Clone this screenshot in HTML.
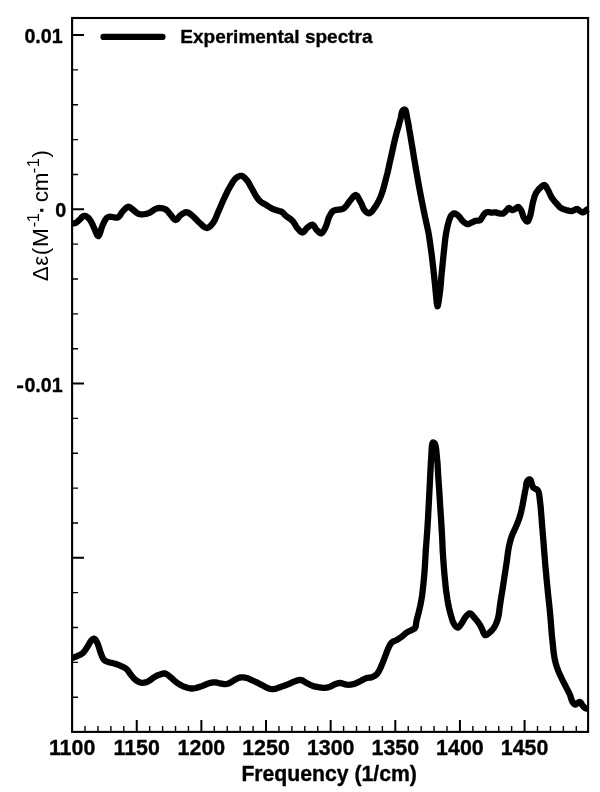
<!DOCTYPE html>
<html><head><meta charset="utf-8"><title>Experimental spectra</title>
<style>
html,body{margin:0;padding:0;background:#fff}
svg{display:block}
text{font-family:"Liberation Sans",sans-serif;fill:#000}
.b{font-weight:bold}
</style></head>
<body>
<svg width="600" height="792" viewBox="0 0 600 792">
<rect width="600" height="792" fill="#fff"/>
<rect x="72.1" y="18.0" width="516.0" height="713.9" fill="none" stroke="#000" stroke-width="2.1"/>
<path d="M136.74 731.90 V719.90 M201.38 731.90 V719.90 M266.02 731.90 V719.90 M330.66 731.90 V719.90 M395.30 731.90 V719.90 M459.94 731.90 V719.90 M524.58 731.90 V719.90 M72.10 557.80 H84.00 M72.10 383.55 H84.00 M72.10 209.30 H84.00 M72.10 35.05 H84.00" fill="none" stroke="#000" stroke-width="2"/>
<path d="M85.03 731.90 V725.90 M97.96 731.90 V725.90 M110.88 731.90 V725.90 M123.81 731.90 V725.90 M149.67 731.90 V725.90 M162.60 731.90 V725.90 M175.52 731.90 V725.90 M188.45 731.90 V725.90 M214.31 731.90 V725.90 M227.24 731.90 V725.90 M240.16 731.90 V725.90 M253.09 731.90 V725.90 M278.95 731.90 V725.90 M291.88 731.90 V725.90 M304.80 731.90 V725.90 M317.73 731.90 V725.90 M343.59 731.90 V725.90 M356.52 731.90 V725.90 M369.44 731.90 V725.90 M382.37 731.90 V725.90 M408.23 731.90 V725.90 M421.16 731.90 V725.90 M434.08 731.90 V725.90 M447.01 731.90 V725.90 M472.87 731.90 V725.90 M485.80 731.90 V725.90 M498.72 731.90 V725.90 M511.65 731.90 V725.90 M537.51 731.90 V725.90 M550.44 731.90 V725.90 M563.36 731.90 V725.90 M576.29 731.90 V725.90 M72.10 697.20 H78.00 M72.10 662.35 H78.00 M72.10 627.50 H78.00 M72.10 592.65 H78.00 M72.10 522.95 H78.00 M72.10 488.10 H78.00 M72.10 453.25 H78.00 M72.10 418.40 H78.00 M72.10 348.70 H78.00 M72.10 313.85 H78.00 M72.10 279.00 H78.00 M72.10 244.15 H78.00 M72.10 174.45 H78.00 M72.10 139.60 H78.00 M72.10 104.75 H78.00 M72.10 69.90 H78.00" fill="none" stroke="#000" stroke-width="1.4"/>
<g fill="none" stroke="#000" stroke-width="6.3" stroke-linejoin="round" stroke-linecap="butt">
<path d="M72.2 223.3 L73.0 223.3 L73.9 223.3 L74.7 223.2 L75.5 223.0 L76.5 222.4 L77.5 221.6 L78.5 220.7 L79.5 219.8 L80.6 218.7 L81.7 217.4 L82.9 216.3 L84.0 215.8 L85.0 215.9 L86.1 216.3 L87.1 216.9 L88.0 217.6 L88.8 218.4 L89.6 219.3 L90.3 220.4 L91.0 221.5 L91.8 223.0 L92.6 224.7 L93.4 226.5 L94.2 228.3 L95.2 230.6 L96.2 233.1 L97.3 235.2 L98.3 236.0 L99.4 234.8 L100.4 231.9 L101.4 228.5 L102.5 225.5 L103.5 223.4 L104.5 221.2 L105.6 219.4 L106.7 218.0 L107.5 217.4 L108.3 217.1 L109.1 216.8 L110.0 216.7 L111.2 216.8 L112.5 217.0 L113.8 217.3 L115.0 217.5 L115.9 217.6 L116.7 217.6 L117.5 217.5 L118.3 217.2 L119.4 216.2 L120.4 214.8 L121.4 213.2 L122.5 211.7 L123.9 210.2 L125.3 208.6 L126.8 207.3 L128.3 206.7 L129.6 207.0 L130.8 207.9 L132.1 209.0 L133.3 210.0 L134.5 211.0 L135.7 212.0 L137.0 213.0 L138.3 213.7 L139.7 214.1 L141.2 214.3 L142.7 214.3 L144.2 214.2 L145.7 214.0 L147.2 213.6 L148.6 213.1 L150.0 212.5 L151.3 211.7 L152.6 210.8 L153.8 209.9 L155.0 209.2 L156.0 208.7 L157.0 208.4 L158.1 208.1 L159.2 208.0 L160.8 208.1 L162.5 208.3 L164.2 208.8 L165.8 209.5 L167.2 210.6 L168.4 212.0 L169.6 213.6 L170.8 215.0 L172.0 216.5 L173.2 218.1 L174.4 219.4 L175.6 220.0 L176.9 219.4 L178.1 218.0 L179.4 216.3 L180.8 215.0 L182.2 214.0 L183.7 213.1 L185.2 212.4 L186.7 212.2 L188.2 212.6 L189.6 213.5 L191.1 214.6 L192.5 215.8 L194.2 217.3 L195.8 219.1 L197.5 220.8 L199.2 222.5 L201.1 224.2 L203.0 226.1 L205.0 227.5 L206.9 228.0 L208.6 227.4 L210.3 226.1 L211.9 224.3 L213.3 222.5 L214.7 220.2 L216.0 217.5 L217.1 214.6 L218.3 211.7 L219.7 208.4 L221.2 205.0 L222.7 201.6 L224.2 198.3 L225.6 195.3 L227.0 192.3 L228.5 189.4 L230.0 186.7 L231.4 184.3 L232.8 182.0 L234.2 179.9 L235.8 178.3 L237.1 177.3 L238.5 176.4 L239.9 175.9 L241.3 175.8 L242.7 176.3 L244.1 177.3 L245.4 178.6 L246.7 180.0 L248.1 181.8 L249.3 183.9 L250.5 186.2 L251.7 188.3 L252.8 190.3 L253.9 192.3 L254.9 194.2 L256.0 196.0 L256.9 197.4 L257.9 198.8 L258.9 200.0 L260.0 201.2 L261.5 202.3 L263.2 203.4 L265.0 204.3 L266.7 205.3 L268.4 206.4 L270.1 207.4 L271.8 208.5 L273.5 209.3 L274.9 209.8 L276.4 210.3 L277.7 210.6 L279.0 211.0 L279.8 211.2 L280.6 211.4 L281.3 211.6 L282.0 212.0 L282.9 212.7 L283.8 213.7 L284.8 214.8 L285.8 215.8 L287.4 217.0 L289.1 218.1 L290.9 219.4 L292.5 220.8 L293.9 222.6 L295.1 224.6 L296.2 226.6 L297.5 228.3 L298.7 229.7 L300.0 231.1 L301.2 232.1 L302.5 232.5 L303.7 231.9 L305.0 230.5 L306.2 228.8 L307.5 227.5 L308.8 226.5 L310.1 225.5 L311.4 224.8 L312.6 224.7 L313.7 225.5 L314.7 226.9 L315.6 228.6 L316.7 230.0 L317.8 231.1 L319.0 232.3 L320.2 233.1 L321.3 233.3 L322.5 232.5 L323.7 230.8 L324.8 228.8 L325.8 226.7 L326.7 224.3 L327.5 221.7 L328.3 219.0 L329.2 216.7 L330.1 215.0 L331.1 213.3 L332.1 211.9 L333.3 210.8 L334.5 210.3 L335.7 210.0 L337.0 209.9 L338.3 209.7 L339.6 209.5 L340.9 209.4 L342.1 209.2 L343.3 208.7 L344.5 207.8 L345.6 206.6 L346.6 205.4 L347.5 204.2 L348.2 203.3 L348.7 202.5 L349.3 201.7 L350.0 200.8 L351.3 199.1 L352.8 197.2 L354.4 195.6 L355.8 195.0 L357.1 195.9 L358.4 197.8 L359.6 200.3 L360.8 202.5 L361.9 204.7 L362.8 207.0 L363.8 209.1 L365.0 210.8 L366.0 211.8 L367.1 212.6 L368.2 213.2 L369.3 213.3 L370.8 212.5 L372.3 211.0 L373.8 208.9 L375.2 206.9 L376.8 204.5 L378.3 201.8 L379.7 198.9 L381.0 195.8 L382.4 191.8 L383.7 187.4 L384.9 182.9 L386.1 178.3 L387.4 173.2 L388.6 168.0 L389.7 162.7 L390.9 157.5 L392.1 152.3 L393.2 147.0 L394.4 141.8 L395.6 136.7 L396.8 132.0 L398.2 127.3 L399.4 122.9 L400.5 119.0 L401.0 116.5 L401.4 114.1 L401.9 112.0 L402.6 110.6 L403.2 110.1 L403.8 109.7 L404.4 109.5 L405.0 109.6 L405.7 110.6 L406.2 112.4 L406.6 114.7 L407.0 117.0 L407.7 120.6 L408.5 124.6 L409.2 129.0 L410.0 133.3 L410.8 138.2 L411.6 143.2 L412.5 148.3 L413.3 153.3 L414.1 158.3 L415.0 163.4 L415.8 168.4 L416.7 173.3 L417.5 177.9 L418.3 182.4 L419.1 186.9 L420.0 191.7 L421.2 197.8 L422.5 204.4 L423.8 210.8 L425.0 216.7 L425.9 220.7 L426.7 224.4 L427.5 228.0 L428.3 231.7 L429.0 235.7 L429.6 239.8 L430.2 244.0 L430.8 248.3 L431.5 253.2 L432.1 258.2 L432.7 263.3 L433.3 268.3 L433.8 273.1 L434.3 277.9 L434.8 282.7 L435.3 287.5 L435.8 293.1 L436.4 299.3 L436.9 304.2 L437.5 306.3 L438.0 305.0 L438.6 301.8 L439.2 297.7 L439.7 293.8 L440.3 289.0 L440.8 283.9 L441.2 278.5 L441.7 273.3 L442.2 268.3 L442.7 263.2 L443.2 258.2 L443.7 253.3 L444.2 248.6 L444.7 243.9 L445.2 239.3 L445.8 235.0 L446.4 231.5 L447.1 228.2 L447.8 225.0 L448.6 222.2 L449.1 220.3 L449.7 218.6 L450.3 217.1 L451.0 215.8 L451.7 214.9 L452.5 214.1 L453.3 213.6 L454.2 213.3 L455.2 213.5 L456.2 214.1 L457.3 214.9 L458.3 215.8 L459.6 217.1 L460.8 218.7 L462.0 220.3 L463.3 221.6 L464.3 222.5 L465.4 223.2 L466.4 223.8 L467.5 224.1 L468.5 224.0 L469.6 223.6 L470.7 223.0 L471.7 222.5 L472.7 222.1 L473.7 221.6 L474.8 221.1 L475.8 220.8 L476.9 220.7 L478.0 220.7 L479.0 220.6 L480.0 220.3 L480.9 219.4 L481.6 218.3 L482.3 217.0 L483.0 215.8 L483.7 214.8 L484.4 213.9 L485.2 213.1 L486.0 212.5 L486.7 212.3 L487.5 212.2 L488.2 212.2 L489.0 212.2 L489.8 212.3 L490.5 212.5 L491.2 212.6 L492.0 212.7 L492.8 212.6 L493.5 212.5 L494.3 212.3 L495.0 212.3 L495.7 212.4 L496.5 212.6 L497.2 212.9 L498.0 213.1 L499.2 213.4 L500.5 213.6 L501.8 213.7 L503.0 213.6 L503.8 213.2 L504.6 212.5 L505.3 211.7 L506.0 211.0 L506.8 210.1 L507.5 209.2 L508.2 208.4 L509.0 208.0 L509.7 208.3 L510.5 208.9 L511.2 209.6 L512.0 210.0 L512.7 210.0 L513.5 209.7 L514.3 209.4 L515.0 209.0 L515.8 208.5 L516.5 207.8 L517.3 207.2 L518.0 207.0 L518.8 207.3 L519.6 208.0 L520.3 209.0 L521.0 210.0 L521.8 211.8 L522.5 214.0 L523.2 216.2 L524.0 218.0 L524.8 219.2 L525.7 220.4 L526.6 221.3 L527.4 221.6 L528.3 220.9 L529.0 219.2 L529.7 217.1 L530.4 215.0 L531.1 212.0 L531.7 208.6 L532.3 205.2 L533.0 202.0 L533.7 199.5 L534.3 197.2 L535.1 195.0 L536.0 193.0 L536.9 191.6 L537.9 190.3 L538.9 189.1 L540.0 188.0 L541.1 187.0 L542.2 185.9 L543.4 185.2 L544.4 185.0 L545.4 185.6 L546.3 186.9 L547.1 188.4 L548.0 190.0 L549.0 191.9 L549.9 194.0 L550.9 196.1 L552.0 198.0 L553.2 199.6 L554.4 201.2 L555.7 202.6 L557.0 204.0 L558.0 205.1 L558.9 206.2 L559.9 207.2 L561.0 208.0 L562.2 208.7 L563.4 209.2 L564.7 209.6 L566.0 210.0 L567.5 210.4 L569.0 210.8 L570.5 211.0 L572.0 211.0 L573.3 210.6 L574.6 209.9 L575.9 209.2 L577.0 209.0 L577.8 209.3 L578.6 209.8 L579.3 210.5 L580.0 211.0 L580.7 211.5 L581.5 211.9 L582.2 212.3 L583.0 212.4 L584.0 212.0 L585.1 211.2 L586.1 210.3 L587.0 209.6 L587.4 209.4 L587.8 209.3 L588.1 209.1 L588.5 209.0"/>
<path d="M72.2 658.0 L73.3 657.6 L74.4 657.2 L75.5 656.8 L76.7 656.3 L78.1 655.7 L79.6 655.0 L81.1 654.3 L82.5 653.3 L83.9 651.9 L85.1 650.2 L86.3 648.4 L87.5 646.7 L88.6 644.9 L89.6 643.0 L90.7 641.3 L91.7 640.0 L92.3 639.4 L93.0 639.0 L93.6 638.7 L94.2 638.7 L95.1 639.3 L95.9 640.4 L96.7 641.8 L97.5 643.3 L98.4 645.6 L99.2 648.2 L100.0 650.9 L100.8 653.3 L101.6 655.2 L102.3 657.0 L103.2 658.7 L104.2 660.0 L105.1 660.7 L106.1 661.2 L107.2 661.6 L108.3 662.0 L109.8 662.5 L111.5 662.8 L113.3 663.2 L115.0 663.7 L116.7 664.3 L118.4 664.9 L120.1 665.6 L121.7 666.3 L123.0 666.9 L124.3 667.6 L125.5 668.3 L126.7 669.2 L128.0 670.6 L129.2 672.4 L130.4 674.2 L131.7 675.8 L132.9 677.2 L134.1 678.6 L135.4 679.8 L136.7 680.8 L138.1 681.6 L139.5 682.2 L141.0 682.6 L142.5 682.8 L143.9 682.7 L145.4 682.4 L146.9 681.9 L148.3 681.3 L150.0 680.3 L151.7 679.1 L153.3 677.8 L155.0 676.7 L156.5 675.9 L158.0 675.2 L159.4 674.7 L160.8 674.2 L161.9 673.9 L162.9 673.6 L164.0 673.4 L165.0 673.5 L166.2 674.0 L167.5 674.7 L168.7 675.7 L170.0 676.7 L171.6 678.0 L173.3 679.6 L175.0 681.1 L176.7 682.5 L178.3 683.6 L179.9 684.6 L181.6 685.5 L183.3 686.3 L185.3 687.1 L187.4 687.8 L189.6 688.3 L191.7 688.5 L193.8 688.4 L195.9 688.0 L198.0 687.4 L200.0 686.8 L201.9 686.1 L203.8 685.3 L205.7 684.5 L207.5 683.8 L209.1 683.3 L210.7 682.8 L212.2 682.5 L213.8 682.3 L215.4 682.4 L216.9 682.6 L218.5 683.0 L220.0 683.3 L221.4 683.6 L222.8 683.9 L224.2 684.2 L225.5 684.2 L226.7 684.0 L227.8 683.7 L228.9 683.3 L230.0 682.8 L231.0 682.2 L232.0 681.6 L232.9 680.9 L234.0 680.3 L235.4 679.5 L236.9 678.7 L238.4 678.0 L240.0 677.5 L241.6 677.3 L243.3 677.4 L245.0 677.6 L246.7 678.0 L248.4 678.5 L250.1 679.3 L251.7 680.1 L253.3 680.8 L254.5 681.4 L255.7 681.9 L256.8 682.4 L258.0 683.0 L259.3 683.7 L260.6 684.4 L262.0 685.1 L263.3 685.8 L264.6 686.5 L265.8 687.2 L267.0 687.8 L268.3 688.3 L269.5 688.7 L270.7 689.0 L272.0 689.2 L273.3 689.2 L274.9 688.9 L276.6 688.4 L278.3 687.8 L280.0 687.2 L282.0 686.5 L284.2 685.8 L286.3 685.0 L288.3 684.2 L290.0 683.5 L291.7 682.7 L293.4 681.9 L295.0 681.3 L296.5 680.8 L297.9 680.3 L299.4 680.0 L300.8 680.0 L302.3 680.4 L303.8 681.2 L305.2 682.2 L306.7 683.0 L308.1 683.7 L309.6 684.5 L311.0 685.2 L312.5 685.8 L313.9 686.3 L315.4 686.6 L316.8 686.9 L318.3 687.2 L320.0 687.5 L321.7 687.7 L323.4 687.8 L325.0 687.8 L326.3 687.7 L327.6 687.4 L328.8 687.1 L330.0 686.7 L331.3 686.1 L332.5 685.5 L333.7 684.8 L335.0 684.2 L336.2 683.8 L337.4 683.4 L338.7 683.1 L340.0 683.0 L341.6 683.2 L343.3 683.8 L345.0 684.4 L346.7 684.7 L348.4 684.8 L350.0 684.7 L351.7 684.5 L353.3 684.2 L355.0 683.7 L356.7 682.9 L358.4 682.1 L360.0 681.3 L361.5 680.5 L362.9 679.7 L364.3 678.9 L365.8 678.3 L367.5 677.9 L369.2 677.7 L370.9 677.5 L372.5 677.0 L373.9 676.3 L375.2 675.5 L376.4 674.5 L377.5 673.3 L378.7 671.5 L379.8 669.4 L380.8 667.2 L381.7 665.0 L382.6 662.9 L383.4 660.9 L384.2 658.8 L385.0 656.7 L385.8 654.6 L386.6 652.4 L387.4 650.3 L388.3 648.3 L389.1 646.7 L389.8 645.1 L390.7 643.7 L391.7 642.5 L392.8 641.7 L394.1 641.1 L395.4 640.6 L396.7 640.0 L398.0 639.2 L399.2 638.4 L400.5 637.6 L401.7 636.7 L403.0 635.7 L404.2 634.6 L405.4 633.5 L406.7 632.5 L408.0 631.8 L409.2 631.2 L410.5 630.6 L411.7 630.0 L412.6 629.6 L413.5 629.2 L414.3 628.7 L415.0 628.0 L415.7 626.5 L416.0 624.5 L416.3 622.2 L416.7 620.0 L417.4 617.4 L418.1 614.7 L418.8 611.9 L419.5 609.0 L420.2 605.9 L420.8 602.8 L421.4 599.6 L422.0 596.0 L422.7 590.4 L423.4 584.2 L424.0 577.9 L424.5 571.7 L424.9 566.2 L425.2 560.7 L425.5 555.3 L425.8 550.0 L426.2 545.2 L426.5 540.5 L426.9 535.6 L427.3 530.0 L428.0 518.6 L428.7 505.1 L429.4 491.6 L430.0 480.0 L430.3 473.8 L430.6 468.2 L430.8 463.0 L431.2 458.0 L431.5 453.3 L431.7 448.4 L432.1 444.4 L432.9 442.5 L433.3 442.5 L433.8 442.7 L434.3 443.1 L434.8 443.6 L435.6 446.0 L436.2 449.6 L436.6 453.8 L437.0 458.0 L437.5 463.0 L437.8 468.1 L438.1 473.8 L438.5 480.0 L439.3 491.5 L440.1 504.8 L441.0 518.2 L441.7 530.0 L442.1 536.9 L442.4 543.0 L442.6 549.0 L443.0 555.0 L443.4 561.3 L443.9 567.7 L444.4 574.0 L445.0 580.0 L445.5 585.2 L446.1 590.3 L446.8 595.3 L447.5 600.0 L448.2 604.0 L449.0 607.9 L449.9 611.6 L450.8 615.0 L451.6 617.6 L452.3 620.1 L453.2 622.3 L454.2 624.2 L455.0 625.4 L455.9 626.5 L456.9 627.3 L457.8 627.6 L458.8 627.1 L459.8 626.1 L460.7 624.7 L461.7 623.3 L462.7 621.7 L463.7 619.9 L464.7 618.2 L465.8 616.7 L466.8 615.5 L467.9 614.4 L468.9 613.6 L470.0 613.3 L471.1 613.8 L472.1 614.9 L473.2 616.2 L474.2 617.5 L475.3 618.7 L476.3 619.9 L477.3 621.2 L478.3 622.5 L479.2 623.9 L480.1 625.3 L480.9 626.8 L481.7 628.3 L482.5 630.2 L483.3 632.4 L484.2 634.2 L485.2 635.2 L486.2 635.1 L487.3 634.5 L488.4 633.5 L489.5 632.6 L490.8 631.4 L492.1 630.1 L493.3 628.6 L494.4 627.0 L495.5 625.0 L496.4 622.8 L497.3 620.5 L498.0 618.0 L498.8 614.5 L499.3 610.7 L499.8 606.7 L500.4 602.5 L501.2 597.3 L502.1 591.9 L503.0 586.3 L503.8 581.0 L504.5 576.3 L505.2 571.7 L505.9 567.2 L506.6 562.7 L507.2 558.4 L507.7 554.2 L508.3 550.1 L509.0 546.2 L509.7 543.3 L510.4 540.5 L511.2 537.8 L512.1 535.2 L513.2 532.6 L514.4 530.1 L515.6 527.5 L516.7 525.0 L517.7 522.5 L518.6 520.1 L519.5 517.6 L520.3 515.0 L521.1 511.9 L521.8 508.7 L522.5 505.4 L523.1 502.2 L523.7 498.9 L524.3 495.6 L524.9 492.3 L525.5 489.3 L525.9 486.9 L526.2 484.6 L526.6 482.6 L527.3 481.0 L527.9 480.3 L528.6 479.7 L529.3 479.3 L529.9 479.3 L530.8 480.5 L531.5 482.9 L532.2 485.5 L533.2 487.5 L534.3 488.3 L535.5 488.8 L536.8 489.4 L537.8 490.3 L538.8 492.5 L539.3 495.4 L539.7 498.7 L540.1 502.2 L540.7 507.2 L541.1 512.8 L541.6 518.5 L542.0 524.2 L542.5 529.7 L542.9 535.2 L543.4 540.7 L543.8 546.2 L544.2 551.7 L544.7 557.3 L545.1 562.8 L545.6 568.2 L546.1 573.2 L546.5 578.2 L547.0 583.1 L547.5 588.3 L548.1 594.5 L548.8 600.9 L549.5 607.3 L550.1 613.8 L550.7 620.3 L551.2 626.9 L551.7 633.4 L552.3 639.5 L552.8 644.4 L553.3 649.1 L553.8 653.6 L554.5 657.8 L555.1 660.8 L555.8 663.6 L556.6 666.2 L557.5 668.8 L558.4 671.2 L559.4 673.5 L560.4 675.7 L561.5 678.0 L562.6 680.3 L563.8 682.7 L565.0 685.0 L566.1 687.2 L567.1 689.1 L568.0 690.9 L569.0 692.7 L569.8 694.5 L570.5 696.4 L571.1 698.4 L571.7 700.2 L572.5 701.8 L573.1 702.8 L573.8 703.6 L574.5 704.3 L575.3 704.6 L576.4 704.2 L577.6 703.2 L578.8 702.2 L579.8 701.8 L580.6 702.3 L581.3 703.3 L581.9 704.5 L582.6 705.5 L583.2 706.3 L583.9 707.1 L584.6 707.8 L585.3 708.3 L586.0 708.5 L586.9 708.5 L587.7 708.4 L588.5 708.3"/>
</g>
<line x1="103.5" y1="36.9" x2="162.5" y2="36.9" stroke="#000" stroke-width="6.2" stroke-linecap="round"/>
<g class="b" stroke="#000" stroke-width="0.35" stroke-linejoin="round">
<text x="180.3" y="43.1" font-size="19">Experimental spectra</text>
<g font-size="21">
<text x="62.7" y="43.2" text-anchor="end" textLength="38.3" lengthAdjust="spacingAndGlyphs">0.01</text>
<text x="66.2" y="217.3" text-anchor="end" textLength="11" lengthAdjust="spacingAndGlyphs">0</text>
<text y="391.6"><tspan x="16.3" textLength="7.7" lengthAdjust="spacingAndGlyphs">-</tspan><tspan x="24.4" textLength="38.3" lengthAdjust="spacingAndGlyphs">0.01</tspan></text>
</g>
<g font-size="21.4"><text x="72.1" y="754.5" text-anchor="middle">1100</text><text x="136.7" y="754.5" text-anchor="middle">1150</text><text x="201.4" y="754.5" text-anchor="middle">1200</text><text x="266.0" y="754.5" text-anchor="middle">1250</text><text x="330.7" y="754.5" text-anchor="middle">1300</text><text x="395.3" y="754.5" text-anchor="middle">1350</text><text x="459.9" y="754.5" text-anchor="middle">1400</text><text x="524.6" y="754.5" text-anchor="middle">1450</text></g>
<text x="241.4" y="780.5" font-size="21.2">Frequency (1/cm)</text>
</g>
<text transform="translate(48.1 280.9) rotate(-90)" font-size="22.5"><tspan x="-0.45">Δ</tspan><tspan x="15.2">ε</tspan><tspan x="25.65">(</tspan><tspan x="34">M</tspan><tspan x="53.6" dy="-9.1" font-size="16.5">-</tspan><tspan x="58.6" font-size="16.5">1</tspan><tspan x="66.9" dy="9.1" stroke="#000" stroke-width="0.8">· </tspan><tspan x="78.7">c</tspan><tspan x="89.55">m</tspan><tspan x="107.7" dy="-9.1" font-size="16.5">-</tspan><tspan x="113.7" font-size="16.5">1</tspan><tspan x="123.3" dy="9.1">)</tspan></text>
</svg>
</body></html>
